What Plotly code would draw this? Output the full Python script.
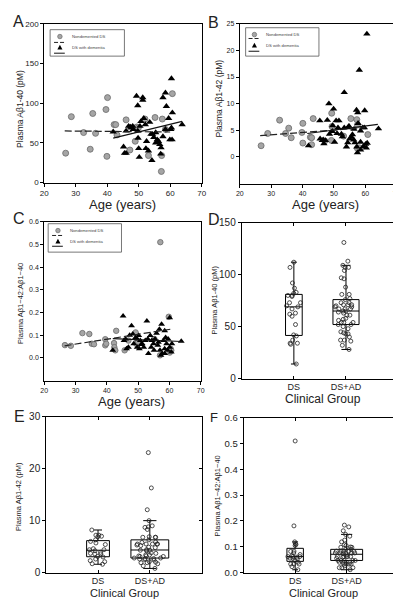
import plotly.graph_objects as go

W, H = 401, 599

# ---------------- data ----------------
groups = ["DS", "DS+AD"]
legend_labels = ["Nondemented DS", "DS with dementia"]

# Panel A: Plasma Abeta1-40 (pM)
a_nd_age = [26.8, 28.6, 32.5, 34.6, 35.4, 36.3, 39.6, 40.1, 39.9, 42.2, 42.7, 43.1, 46.0, 47.2,
            48.9, 49.4, 49.9, 53.1, 55.2, 57.3, 57.5, 57.2, 58.5, 60.7, 52.0]
a_nd_val = [37, 83, 63, 42, 87, 62, 92, 107, 33, 73, 73, 60, 79, 41,
            52, 70, 69, 34, 82, 34, 80, 14, 67, 112, 80]
a_d_age = [49.3, 49.7, 51.3, 51.3, 48.1, 47.6, 48.3, 49.7, 50.4, 50.7, 51.6, 52.1, 45.2, 45.5,
           46.0, 47.4, 49.8, 50.0, 50.2, 52.3, 52.5, 53.1, 53.5, 54.2, 54.4, 54.8, 55.4, 55.9,
           56.3, 56.7, 57.1, 57.7, 57.7, 58.5, 58.8, 59.5, 60.4, 59.9, 60.6, 60.4, 60.7, 60.2,
           63.8, 57.0, 41.9, 46.0, 58.5, 55.4, 53.9, 46.8]
a_d_val = [109, 97, 107, 104, 71, 69, 67, 65, 71, 77, 81, 73, 45, 37,
           37, 70, 56, 43, 32, 43, 52, 40, 76, 28, 61, 57, 63, 54,
           52, 48, 44, 107, 58, 113, 96, 81, 69, 54, 54, 131, 88, 67,
           73, 36, 64, 65, 67, 50, 61, 71]
a_fit_nd_x = [26.5, 60.0]
a_fit_nd_y = [65.0, 63.7]
a_fit_d_x = [41.9, 63.8]
a_fit_d_y = [56.0, 77.0]

# Panel B: Plasma Abeta1-42 (pM)
b_nd_age = [26.8, 28.9, 32.7, 34.6, 35.6, 36.4, 39.8, 40.1, 40.1, 42.5, 42.9, 42.9, 43.4, 47.1,
            49.3, 49.2, 49.4, 53.1, 55.4, 57.3, 57.5, 57.5, 60.8, 58.2]
b_nd_val = [2.1, 4.4, 6.9, 4.4, 5.4, 3.6, 4.6, 6.3, 2.6, 3.7, 3.6, 2.3, 7.2, 3.0,
            8.2, 3.1, 5.7, 3.9, 7.2, 7.0, 6.0, 1.6, 4.2, 1.7]
b_d_age = [60.5, 58.1, 53.3, 48.4, 49.9, 45.5, 47.9, 50.7, 51.6, 59.8, 57.2, 57.6, 57.7, 49.6,
           54.8, 53.3, 56.4, 59.2, 59.7, 58.5, 41.9, 45.6, 46.6, 46.8, 48.6, 49.5, 50.2, 51.0,
           52.4, 52.7, 54.0, 54.4, 55.0, 55.6, 56.3, 56.7, 57.3, 57.5, 58.5, 59.4, 60.1, 60.6,
           60.3, 64.2, 46.3, 54.4, 55.9, 58.5, 51.3, 47.3]
b_d_val = [23.1, 16.3, 12.1, 10.0, 9.0, 6.8, 6.9, 6.8, 6.8, 8.7, 8.8, 8.3, 6.3, 5.9,
           5.8, 5.5, 5.2, 5.5, 5.5, 4.9, 2.1, 3.4, 3.2, 2.5, 4.3, 4.8, 2.8, 4.4,
           4.3, 3.8, 1.9, 2.7, 3.4, 3.7, 3.2, 2.7, 1.9, 0.8, 1.3, 2.0, 2.4, 2.6,
           1.7, 5.3, 3.1, 5.5, 4.2, 2.8, 5.5, 3.1]
b_fit_nd_x = [26.5, 60.0]
b_fit_nd_y = [4.0, 5.5]
b_fit_d_x = [41.5, 64.0]
b_fit_d_y = [4.4, 6.1]

# Panel C: Plasma Abeta1-42 : Abeta1-40
c_nd_age = [26.6, 28.5, 32.2, 34.4, 35.2, 35.9, 39.5, 39.5, 39.8, 42.3, 42.4, 42.7, 43.0, 45.7,
            46.9, 49.2, 49.4, 50.0, 55.2, 59.8, 57.1, 60.4, 60.6, 60.1, 57.0]
c_nd_val = [0.056, 0.053, 0.109, 0.105, 0.062, 0.060, 0.082, 0.055, 0.062, 0.065, 0.047, 0.033,
            0.119, 0.033, 0.076, 0.112, 0.062, 0.070, 0.083, 0.181, 0.510, 0.040, 0.033, 0.023, 0.011]
c_d_age = [45.2, 47.9, 52.8, 60.1, 57.5, 56.8, 58.5, 47.3, 48.3, 49.2, 49.7, 50.2, 50.7, 51.3,
           51.8, 52.3, 53.1, 53.9, 54.4, 54.9, 55.4, 55.9, 56.5, 57.0, 57.7, 58.5, 59.1, 59.6,
           60.1, 60.6, 60.8, 63.8, 41.9, 45.5, 46.3, 46.9, 48.6, 49.7, 50.4, 51.0, 53.3, 54.2,
           55.1, 56.3, 57.3, 58.1, 58.8, 59.4, 58.5, 46.0]
c_d_val = [0.184, 0.141, 0.162, 0.177, 0.148, 0.126, 0.119, 0.099, 0.105, 0.090, 0.083, 0.098,
           0.076, 0.062, 0.047, 0.076, 0.083, 0.098, 0.076, 0.062, 0.083, 0.108, 0.069, 0.033,
           0.019, 0.040, 0.062, 0.083, 0.047, 0.026, 0.062, 0.073, 0.033, 0.076, 0.040, 0.047,
           0.062, 0.047, 0.040, 0.059, 0.019, 0.047, 0.033, 0.055, 0.011, 0.076, 0.090, 0.033,
           0.019, 0.083]
c_fit_nd_x = [26.5, 60.3]
c_fit_nd_y = [0.053, 0.126]
c_fit_d_x = [41.9, 64.0]
c_fit_d_y = [0.085, 0.072]

# ---------------- helpers ----------------
def dx(l, r):
    return [l / W, r / W]

def dy(t, b):
    return [1 - b / H, 1 - t / H]

def px(x):
    return x / W

def py(y):
    return 1 - y / H

FONT = "Liberation Sans, Arial, sans-serif"
fig = go.Figure()

circ = dict(symbol="circle", size=6, color="#a5a5a5", line=dict(color="#6a6a6a", width=0.8))
tri = dict(symbol="triangle-up", size=6.5, color="#000000", line=dict(width=0))

def scatter_panel(n, nd_age, nd_val, d_age, d_val, fnx, fny, fdx, fdy, msize):
    xa = "x" if n == 1 else f"x{n}"
    ya = "y" if n == 1 else f"y{n}"
    c = dict(circ); c["size"] = msize
    t = dict(tri); t["size"] = msize + 0.5
    fig.add_trace(go.Scatter(x=nd_age, y=nd_val, mode="markers", marker=c,
                             xaxis=xa, yaxis=ya, showlegend=False))
    fig.add_trace(go.Scatter(x=d_age, y=d_val, mode="markers", marker=t,
                             xaxis=xa, yaxis=ya, showlegend=False))
    fig.add_trace(go.Scatter(x=fnx, y=fny, mode="lines",
                             line=dict(color="#222", width=1.2, dash="7px,3px"),
                             xaxis=xa, yaxis=ya, showlegend=False))
    fig.add_trace(go.Scatter(x=fdx, y=fdy, mode="lines",
                             line=dict(color="#111", width=1.2),
                             xaxis=xa, yaxis=ya, showlegend=False))

scatter_panel(1, a_nd_age, a_nd_val, a_d_age, a_d_val, a_fit_nd_x, a_fit_nd_y, a_fit_d_x, a_fit_d_y, 6)
scatter_panel(2, b_nd_age, b_nd_val, b_d_age, b_d_val, b_fit_nd_x, b_fit_nd_y, b_fit_d_x, b_fit_d_y, 6)
scatter_panel(3, c_nd_age, c_nd_val, c_d_age, c_d_val, c_fit_nd_x, c_fit_nd_y, c_fit_d_x, c_fit_d_y, 5.5)

def box_panel(n, vals_ds, vals_ad, widths):
    xa, ya = f"x{n}", f"y{n}"
    for g, vals, w in zip(groups, [vals_ds, vals_ad], widths):
        fig.add_trace(go.Box(
            x=[g] * len(vals), y=vals, width=w, boxpoints="all", jitter=0.9, pointpos=0,
            marker=dict(symbol="circle-open", size=4, color="#222", line=dict(width=0.8)),
            line=dict(color="black", width=1), fillcolor="rgba(0,0,0,0)",
            whiskerwidth=0.35, quartilemethod="exclusive", xaxis=xa, yaxis=ya,
            showlegend=False, hoverinfo="y"))
    # empty traces to host mirrored inside ticks
    fig.add_trace(go.Scatter(x=[], y=[], xaxis=f"x{n+3}", yaxis=ya, showlegend=False))
    fig.add_trace(go.Scatter(x=[], y=[], xaxis=xa, yaxis=f"y{n+3}", showlegend=False))

box_panel(4, a_nd_val, a_d_val, [0.32, 0.5])
box_panel(5, b_nd_val, b_d_val, [0.44, 0.73])
box_panel(6, c_nd_val, c_d_val, [0.32, 0.62])

axbase = dict(showline=True, linecolor="black", linewidth=1, mirror=True, showgrid=False,
              zeroline=False, ticks="outside", ticklen=3, tickcolor="black",
              tickfont=dict(family=FONT, size=8, color="#222"))

layout = dict(width=W, height=H, margin=dict(l=0, r=0, t=0, b=0),
              plot_bgcolor="white", paper_bgcolor="white", boxmode="overlay",
              font=dict(family=FONT, color="#222"))

# scatter panels
scat = {1: ((33, 194), (10, 172), [0, 200], dict(dtick=50), 8),
        2: ((233, 393.5), (10, 173), [-5, 25], dict(tickvals=[0, 5, 10, 15, 20, 25]), 7),
        3: ((33, 193), (212, 374), [-0.1, 0.6],
            dict(tickvals=[0, 0.1, 0.2, 0.3, 0.4, 0.5, 0.6], tickformat=".1f"), 7)}
for n, ((l, r), (t, b), yr, yt, fs) in scat.items():
    xk = "xaxis" if n == 1 else f"xaxis{n}"
    yk = "yaxis" if n == 1 else f"yaxis{n}"
    ya = "y" if n == 1 else f"y{n}"
    xa = "x" if n == 1 else f"x{n}"
    xd = dict(axbase); xd.update(domain=dx(l, r), range=[20, 70], dtick=10, anchor=ya)
    xd["tickfont"] = dict(family=FONT, size=fs, color="#222")
    ydd = dict(axbase); ydd.update(domain=dy(t, b), range=yr, anchor=xa, **yt)
    ydd["tickfont"] = dict(family=FONT, size=fs, color="#222")
    layout[xk] = xd
    layout[yk] = ydd

# box panels
boxp = {4: ((235, 395), (213, 372), [0, 150], [0, 50, 100, 150], None, 10),
        5: ((35, 194), (411, 570), [0, 30], [0, 10, 20, 30], None, 10),
        6: ((237, 395), (412, 570), [0, 0.6], [0, 0.1, 0.2, 0.3, 0.4, 0.5, 0.6], ".1f", 9.5)}
for n, ((l, r), (t, b), yr, tv, tf, fs) in boxp.items():
    xd = dict(axbase); xd.update(domain=dx(l, r), type="category", range=[-1, 2],
                                 categoryorder="array", categoryarray=groups, anchor=f"y{n}",
                                 ticks="inside")
    xd["tickfont"] = dict(family=FONT, size=9, color="#222")
    ydd = dict(axbase); ydd.update(domain=dy(t, b), range=yr, tickvals=tv, anchor=f"x{n}")
    ydd["tickfont"] = dict(family=FONT, size=fs, color="#222")
    if tf:
        ydd["tickformat"] = tf
    layout[f"xaxis{n}"] = xd
    layout[f"yaxis{n}"] = ydd
    layout[f"xaxis{n+3}"] = dict(overlaying=f"x{n}", side="top", anchor=f"y{n}", range=[-1, 2],
                                 tickvals=[0, 1], ticks="inside", ticklen=3, tickcolor="black",
                                 showticklabels=False, showline=False, showgrid=False,
                                 zeroline=False)
    layout[f"yaxis{n+3}"] = dict(overlaying=f"y{n}", side="right", anchor=f"x{n}", range=yr,
                                 tickvals=tv, ticks="inside", ticklen=3, tickcolor="black",
                                 showticklabels=False, showline=False, showgrid=False,
                                 zeroline=False)

fig.update_layout(**layout)

ann = []
def text(x, y, s, size, angle=0, xanchor="center", color="#222"):
    ann.append(dict(x=px(x), y=py(y), xref="paper", yref="paper", text=s, showarrow=False,
                    textangle=angle, xanchor=xanchor, yanchor="middle",
                    font=dict(family=FONT, size=size, color=color)))

# panel letters
for s, x, y, fs in [("A", 7, 8, 16), ("B", 206, 9, 16), ("C", 7, 209, 16),
                    ("D", 207, 210, 16), ("E", 8, 411, 16), ("F", 207, 412, 13)]:
    text(x, y, s, fs)

# axis titles
text(113, 194, "Age (years)", 13)
text(321, 194, "Age (years)", 13)
text(122, 395, "Age (years)", 13)
text(318, 393, "Clinical Group", 12)
text(115, 591, "Clinical Group", 11)
text(319, 591, "Clinical Group", 11)
text(8, 97, "Plasma Aβ1-40 (pM)", 8.5, -90)
text(212, 86, "Plasma Aβ1-42 (pM)", 8.5, -90)
text(8, 295, "Plasma Aβ1−42:Aβ1−40", 7.5, -90)
text(207, 292, "Plasma Aβ1-40 (pM)", 7.5, -90)
text(6, 492, "Plasma Aβ1-42 (pM)", 7.5, -90)
text(210, 492, "Plasma Aβ1−42:Aβ1−40", 7.5, -90)

# legends
shapes = []
def legend(bx0, by0, bx1, by1, cx, cy_circ, cy_dash, cy_tri, cy_solid):
    shapes.append(dict(type="rect", xref="paper", yref="paper", x0=px(bx0), x1=px(bx1),
                       y0=py(by1), y1=py(by0), line=dict(color="#555", width=0.8),
                       fillcolor="white"))
    shapes.append(dict(type="circle", xref="paper", yref="paper", x0=px(cx - 2.3),
                       x1=px(cx + 2.3), y0=py(cy_circ + 2.3), y1=py(cy_circ - 2.3),
                       fillcolor="#a5a5a5", line=dict(color="#6a6a6a", width=0.7)))
    shapes.append(dict(type="line", xref="paper", yref="paper", x0=px(cx - 6), x1=px(cx + 5),
                       y0=py(cy_dash), y1=py(cy_dash),
                       line=dict(color="#222", width=1, dash="4px,2px")))
    path = (f"M {px(cx - 2.6)},{py(cy_tri + 2.2)} L {px(cx + 2.6)},{py(cy_tri + 2.2)} "
            f"L {px(cx)},{py(cy_tri - 2.6)} Z")
    shapes.append(dict(type="path", xref="paper", yref="paper", path=path,
                       fillcolor="black", line=dict(width=0)))
    shapes.append(dict(type="line", xref="paper", yref="paper", x0=px(cx - 6), x1=px(cx + 5),
                       y0=py(cy_solid), y1=py(cy_solid), line=dict(color="#111", width=1)))
    text(cx + 10, cy_circ, legend_labels[0], 4.2, xanchor="left", color="#444")
    text(cx + 10, cy_tri, legend_labels[1], 4.2, xanchor="left", color="#444")

legend(39, 16, 115, 43, 49, 23, 29, 34, 40)
legend(239, 14, 314, 43, 248, 21, 25, 32, 38)
legend(37, 214, 112, 243, 47, 221, 226, 232, 237)

fig.update_layout(annotations=ann, shapes=shapes)
fig.write_html("out.html")
